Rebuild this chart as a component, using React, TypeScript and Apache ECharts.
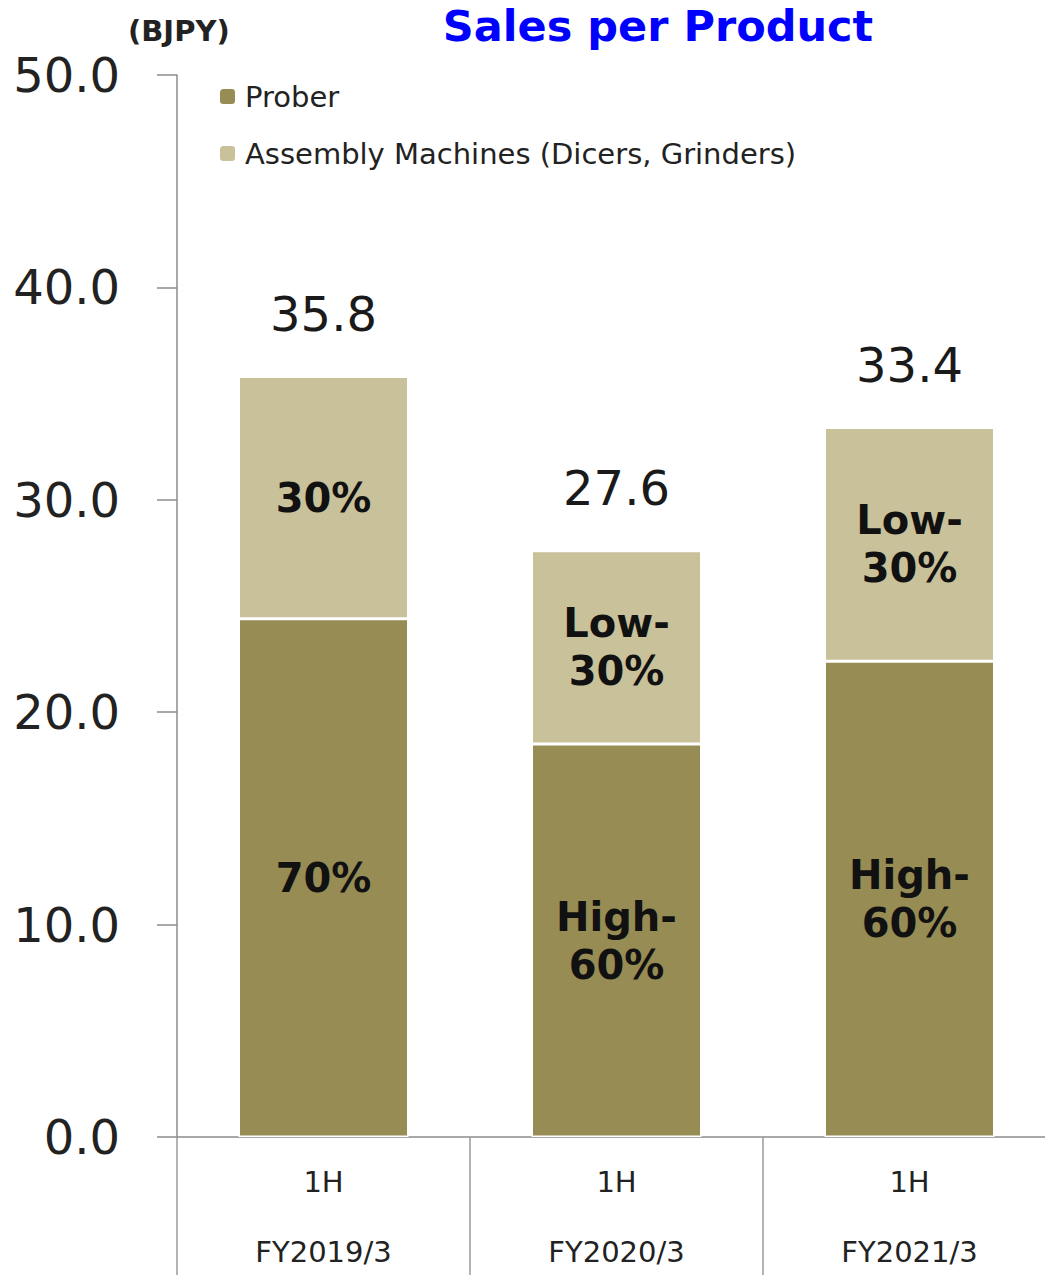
import React, { useEffect, useRef } from "react";
import * as echarts from "echarts";

const categories = ["FY2019/3", "FY2020/3", "FY2021/3"];
const periodLabel = "1H";
const proberValues = [24.4, 18.5, 22.4];
const assemblyValues = [11.4, 9.1, 11.0];
const totalValues = [35.8, 27.6, 33.4];
const proberShareLabels = ["70%", "High-\n60%", "High-\n60%"];
const assemblyShareLabels = ["30%", "Low-\n30%", "Low-\n30%"];
const seriesNames = ["Prober", "Assembly Machines (Dicers, Grinders)"];

const FONT = "'DejaVu Sans', Verdana, sans-serif";

export default function App() {
  const ref = useRef<HTMLDivElement>(null);
  useEffect(() => {
    document.body.style.margin = "0";
    if (!ref.current) return;
    const chart = echarts.init(ref.current, null, { renderer: "svg" });
    const inLabel = (labels: string[]) => ({
      show: true,
      position: "inside",
      formatter: (p: any) => labels[p.dataIndex],
      fontFamily: FONT,
      fontWeight: "bold",
      fontSize: 40,
      lineHeight: 48,
      color: "#111",
    });
    chart.setOption({
      animation: false,
      backgroundColor: "#fff",
      textStyle: { fontFamily: FONT },
      title: [
        {
          text: "Sales per Product",
          left: 653,
          textAlign: "center",
          top: -1,
          textStyle: { fontFamily: FONT, fontWeight: "bold", fontSize: 43, color: "#0000ff" },
        },
        {
          text: "(BJPY)",
          left: 123,
          top: 11,
          textStyle: { fontFamily: FONT, fontWeight: "bold", fontSize: 29, color: "#222" },
        },
      ],
      legend: {
        orient: "vertical",
        left: 213,
        top: 77,
        itemWidth: 17,
        itemHeight: 17,
        itemGap: 28,
        data: seriesNames,
        textStyle: { fontFamily: FONT, fontSize: 29, color: "#222", padding: [0, 0, 0, 4] },
      },
      grid: { left: 177, top: 75, width: 879, height: 1062, outerBoundsMode: "none", containLabel: false },
      xAxis: {
        type: "category",
        data: categories,
        axisLine: { show: true, lineStyle: { color: "#8c8c8c", width: 1.5 } },
        axisTick: { show: true, interval: 0, length: 138, lineStyle: { color: "#9a9a9a", width: 1.5 } },
        axisLabel: {
          interval: 0,
          margin: 10,
          formatter: (v: string) => periodLabel + "\n" + v,
          fontFamily: FONT,
          fontSize: 29,
          lineHeight: 70,
          color: "#222",
        },
      },
      yAxis: {
        type: "value",
        min: 0,
        max: 50,
        interval: 10,
        splitLine: { show: false },
        axisLine: { show: true, lineStyle: { color: "#8c8c8c", width: 1.5 } },
        axisTick: { show: true, length: 20, lineStyle: { color: "#8c8c8c", width: 1.5 } },
        axisLabel: {
          margin: 57,
          formatter: (v: number) => v.toFixed(1),
          fontFamily: FONT,
          fontSize: 48,
          color: "#222",
          padding: [0, 0, 12, 0],
        },
      },
      series: [
        {
          name: seriesNames[0],
          type: "bar",
          stack: "s",
          barWidth: 170,
          data: proberValues,
          itemStyle: { color: "#968c54", borderColor: "#fff", borderWidth: 1.5 },
          label: inLabel(proberShareLabels),
        },
        {
          name: seriesNames[1],
          type: "bar",
          stack: "s",
          barWidth: 170,
          data: assemblyValues,
          itemStyle: { color: "#c9c199", borderColor: "#fff", borderWidth: 1.5 },
          label: inLabel(assemblyShareLabels),
        },
        {
          name: "Total",
          type: "scatter",
          data: totalValues,
          symbol: "rect",
          symbolSize: 1,
          itemStyle: { color: "rgba(0,0,0,0)" },
          label: {
            show: true,
            position: "top",
            distance: 38,
            formatter: (p: any) => p.value.toFixed(1),
            fontFamily: FONT,
            fontSize: 48,
            color: "#1a1a1a",
            opacity: 1,
          },
        },
      ],
    });
    return () => chart.dispose();
  }, []);
  return <div ref={ref} style={{ width: 1045, height: 1275 }} />;
}
